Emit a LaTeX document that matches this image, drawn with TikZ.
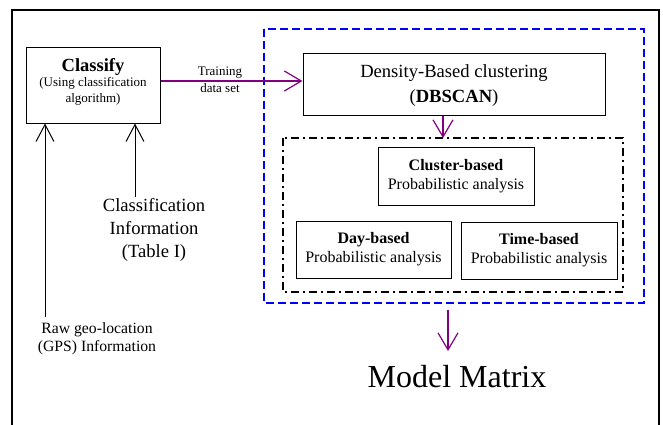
\documentclass[tikz,border=0pt]{standalone}
\usepackage{fontspec}
\setmainfont{Liberation Serif}
\usetikzlibrary{arrows.meta}
\definecolor{arrpurple}{RGB}{128,0,128}
\definecolor{dashblue}{RGB}{0,0,255}
\tikzset{
  box/.style={draw, line width=1pt, inner sep=0pt},
  parrow/.style={draw=arrpurple, line width=1.2pt, -{Straight Barb[length=17pt,width=20pt,line width=1.2pt]}},
  karrow/.style={draw=black, line width=1pt, -{Straight Barb[length=17pt,width=18pt,line width=1pt]}},
  lbl/.style={align=center, inner sep=0pt},
  pbox/.style={box, align=center, font=\fontsize{16}{19}\selectfont},
}
\begin{document}
\begin{tikzpicture}[x=1pt,y=-1pt]
\useasboundingbox (0,0) rectangle (663,424);
\clip (0,0) rectangle (663,424);
\fill[white] (0,0) rectangle (663,424);
% outer frame
\draw[line width=1.5pt] (12,430) -- (12,10) -- (659,10) -- (659,430);
% blue dashed container
\draw[dashblue, line width=2pt, dash pattern=on 8pt off 4pt] (264,29) rectangle (644,303);
% dash-dot container
\draw[black, line width=2pt, dash pattern=on 8pt off 4pt on 2pt off 4pt] (283,138) rectangle (623,292);
% Classify box
\node[box, minimum width=134pt, minimum height=76pt] (classify) at (93,85) {};
\node[lbl, font=\fontsize{18.5}{18}\selectfont\bfseries] (clt) at (93,67) {Classify};
\node[lbl, font=\fontsize{13}{16}\selectfont] (clsub) at (93,91) {(Using classification\\algorithm)};
% DBSCAN box
\node[box, minimum width=302pt, minimum height=62pt] (dbscan) at (454,84) {};
\node[lbl, font=\fontsize{18.6}{25}\selectfont] (dbt) at (454,85.5) {Density-Based clustering\\(\textbf{DBSCAN})};
% analysis boxes
\node[pbox, minimum width=156pt, minimum height=58pt] (cluster) at (456,176) {\textbf{Cluster-based}\\Probabilistic analysis};
\node[pbox, minimum width=155pt, minimum height=57pt] (day) at (373.5,249.5) {\textbf{Day-based}\\Probabilistic analysis};
\node[pbox, minimum width=156pt, minimum height=57pt] (time) at (539,250.5) {\textbf{Time-based}\\Probabilistic analysis};
% coordinates
\coordinate (ddtop) at (443,138);
\coordinate (bluebot) at (448,310);
\coordinate (modeltop) at (448,351);
\coordinate (rawtop) at (45,317);
\coordinate (cinfotop) at (135,197);
% labels
\node[lbl, font=\fontsize{18.6}{23}\selectfont] (cinfo) at (154,230) {Classification\\Information\\(Table I)};
\node[lbl, font=\fontsize{15.7}{18}\selectfont] (raw) at (97,339) {Raw geo-location\\(GPS) Information};
\node[lbl, font=\fontsize{32}{32}\selectfont] (model) at (457,377) {Model Matrix};
\node[lbl, font=\fontsize{13}{17}\selectfont] (train) at (220,80) {Training\\data set};
% arrows
\draw[parrow] (classify.east |- 0,81) -- (dbscan.west |- 0,81);
\draw[parrow] (dbscan.south -| ddtop) -- (ddtop);
\draw[parrow] (bluebot) -- (modeltop);
\draw[karrow] (rawtop) -- (classify.south -| rawtop);
\draw[karrow] (cinfotop) -- (classify.south -| cinfotop);
\end{tikzpicture}
\end{document}
